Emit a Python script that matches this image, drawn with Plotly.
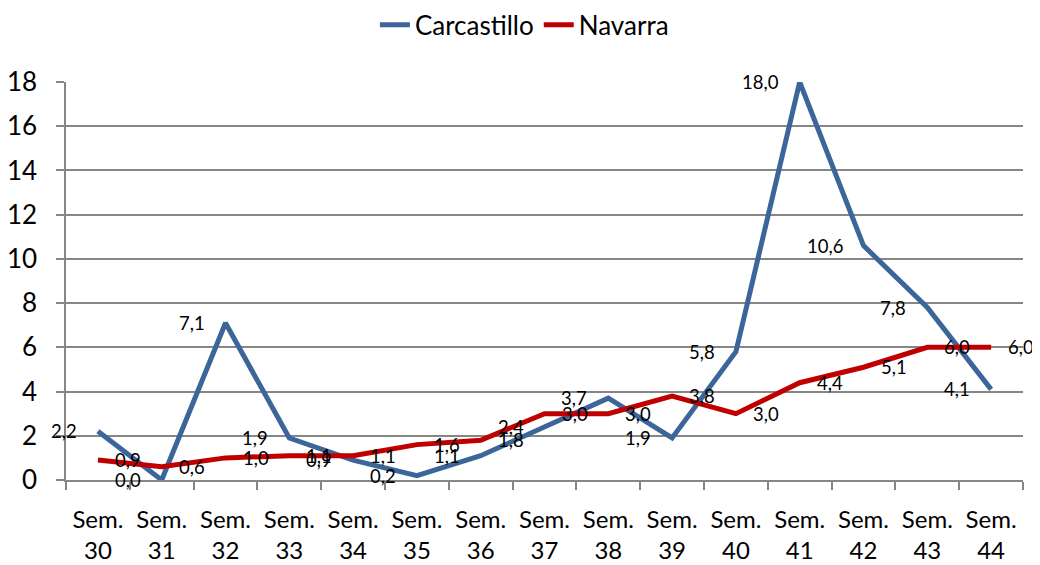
import plotly.graph_objects as go

categories = ["Sem.<br>30", "Sem.<br>31", "Sem.<br>32", "Sem.<br>33", "Sem.<br>34",
              "Sem.<br>35", "Sem.<br>36", "Sem.<br>37", "Sem.<br>38", "Sem.<br>39",
              "Sem.<br>40", "Sem.<br>41", "Sem.<br>42", "Sem.<br>43", "Sem.<br>44"]
carcastillo = [2.2, 0.0, 7.1, 1.9, 0.9, 0.2, 1.1, 2.4, 3.7, 1.9, 5.8, 18.0, 10.6, 7.8, 4.1]
navarra = [0.9, 0.6, 1.0, 1.1, 1.1, 1.6, 1.8, 3.0, 3.0, 3.8, 3.0, 4.4, 5.1, 6.0, 6.0]
y_ticks = [0, 2, 4, 6, 8, 10, 12, 14, 16, 18]

BLUE = "#3C6599"
RED = "#C00000"
GRID = "#868686"
FONT = "Lato"

fig = go.Figure()
fig.add_trace(go.Scatter(x=categories, y=carcastillo, mode="lines", name="Carcastillo",
                         line=dict(color=BLUE, width=5)))
fig.add_trace(go.Scatter(x=categories, y=navarra, mode="lines", name="Navarra",
                         line=dict(color=RED, width=5)))

def fmt(v):
    return f"{v:.1f}".replace(".", ",")

annotations = []
for c, v in zip(categories, carcastillo):
    annotations.append(dict(x=c, y=v, text=fmt(v), showarrow=False, xanchor="right",
                            yanchor="middle", xshift=-19,
                            font=dict(size=18.5, color="black", family=FONT)))
for c, v in zip(categories, navarra):
    annotations.append(dict(x=c, y=v, text=fmt(v), showarrow=False, xanchor="left",
                            yanchor="middle", xshift=15,
                            font=dict(size=18.5, color="black", family=FONT)))

fig.update_layout(
    width=1040, height=565,
    margin=dict(l=58, r=25, t=74, b=93),
    paper_bgcolor="white", plot_bgcolor="white",
    font=dict(family=FONT, size=24, color="black"),
    showlegend=True,
    legend=dict(orientation="h", x=0.479, xanchor="center", y=0.97, yref="container",
                yanchor="middle", font=dict(size=26, family=FONT), traceorder="normal",
                itemwidth=30),
    annotations=annotations,
)
fig.update_xaxes(type="category", tickson="boundaries", ticks="outside", ticklen=8,
                 tickcolor=GRID, tickwidth=1.5, showline=True, linecolor=GRID,
                 linewidth=1.5, showgrid=False, tickfont=dict(size=24, family=FONT),
                 ticklabelstandoff=17, automargin=False,
                 range=[-0.5, len(categories) - 0.5])
fig.update_yaxes(range=[0, 18], tickvals=y_ticks, ticks="outside", ticklen=8,
                 tickcolor=GRID, tickwidth=1.5, showline=True, linecolor=GRID,
                 linewidth=1.5, showgrid=True, gridcolor=GRID, gridwidth=1.5,
                 zeroline=False, tickfont=dict(size=26, family=FONT),
                 ticklabelstandoff=14, automargin=False)

fig.write_html("out.html")
